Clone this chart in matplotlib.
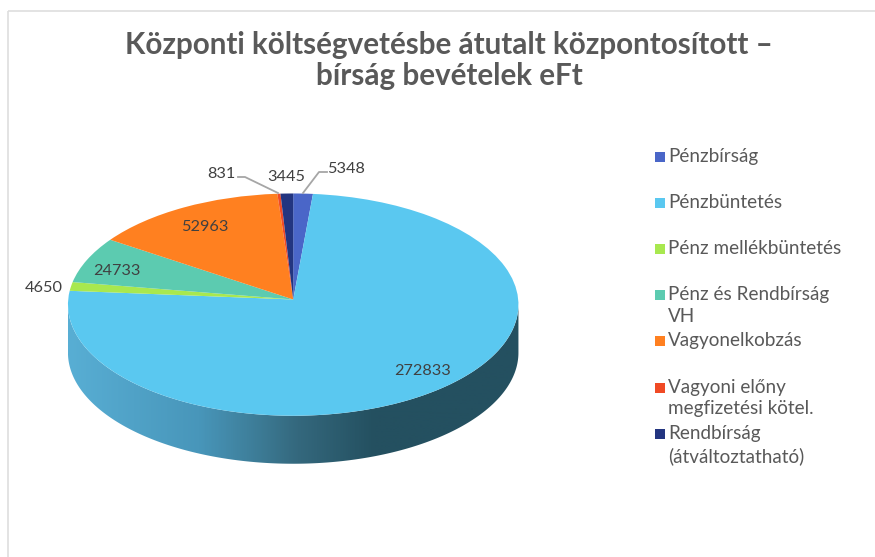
import matplotlib
matplotlib.use('Agg')
import matplotlib.pyplot as plt
import numpy as np
from matplotlib.colors import LinearSegmentedColormap
from matplotlib.patches import PathPatch, Rectangle
from matplotlib.path import Path
from matplotlib.transforms import Transform

plt.rcParams['font.family'] = ['Lato', 'DejaVu Sans']

#-----------------------------------------------------------------
# Data
#-----------------------------------------------------------------
categories = ['Pénzbírság', 'Pénzbüntetés', 'Pénz mellékbüntetés',
              'Pénz és Rendbírság\nVH', 'Vagyonelkobzás',
              'Vagyoni előny\nmegfizetési kötel.',
              'Rendbírság\n(átváltoztatható)']
values = [5348, 272833, 4650, 24733, 52963, 831, 3445]
colors = ['#4A66C8', '#5AC8F0', '#A8E84F', '#5CCBB0', '#FF8020', '#F04A25', '#233580']
title = 'Központi költségvetésbe átutalt központosított –\nbírság bevételek eFt'

# label positions in pixels of the 875x557 picture
label_pos = [(346, 169), (423, 371), (44, 288), (117, 271), (205, 227), (221, 174), (286, 177)]

#-----------------------------------------------------------------
# Pie geometry: perspective tilt of the unit circle, pixel coordinates
#-----------------------------------------------------------------
CX, CY = 293.2, 299.5
A, B, P = 225.0, 110.9, 0.046
DEPTH = 48

class Tilt(Transform):
    input_dims = 2
    output_dims = 2
    is_separable = False
    has_inverse = False

    def transform_non_affine(self, xy):
        xy = np.asarray(xy, dtype=float)
        w = 1 + P * xy[:, 1]
        return np.column_stack((CX + A * xy[:, 0] / w, CY - B * xy[:, 1] / w))

tilt = Tilt()

fig = plt.figure(figsize=(8.75, 5.57), dpi=100)
ax = fig.add_axes([0, 0, 1, 1])

wedges, _ = ax.pie(values, colors=colors, startangle=90, counterclock=False,
                   wedgeprops={'linewidth': 0})
ax.set_aspect('auto')
for w in wedges:
    w.set_transform(tilt + ax.transData)
    w.set_zorder(3)

# side wall, horizontal gradient clipped to the band under the front rim
# rim runs from the widest point on the right to the widest point on the left
t = np.linspace(np.pi / 4, 7 * np.pi / 4, 600)
rim = tilt.transform_non_affine(np.column_stack((np.sin(t), np.cos(t))))
rim = rim[np.argmax(rim[:, 0]):np.argmin(rim[:, 0]) + 1]
band = np.vstack((rim, (rim + [0, DEPTH])[::-1]))
wall_path = Path(np.vstack((band, band[0])), closed=True)
wall_cmap = LinearSegmentedColormap.from_list('wall', [
    (0.00, '#58AED4'), (0.29, '#4896BA'), (0.43, '#3C7A94'),
    (0.51, '#34687D'), (0.68, '#245060'), (1.00, '#245060')])
img = ax.imshow(np.linspace(0, 1, 450)[None, :], cmap=wall_cmap, aspect='auto',
                extent=(68, 519, 520, 300), zorder=2)
clip = PathPatch(wall_path, transform=ax.transData, facecolor='none', edgecolor='none')
ax.add_patch(clip)
img.set_clip_path(clip)

# data labels
for v, (x, y) in zip(values, label_pos):
    ax.text(x, y, str(v), ha='center', va='center', fontsize=11.7, color='#404040', zorder=5)

# leader lines
ax.plot([238, 245, 278], [177, 177, 193], color='#A6A6A6', lw=1.3, zorder=4)
ax.plot([303, 319, 327], [193, 172, 172], color='#A6A6A6', lw=1.3, zorder=4)

# legend, rows are evenly spaced whatever the number of text lines
for i, (name, c) in enumerate(zip(categories, colors)):
    y = 157 + i * 46.1
    ax.add_patch(Rectangle((655, y - 5), 10, 10, facecolor=c, edgecolor='none'))
    ax.text(668, y - 9, name, ha='left', va='top', fontsize=13.6, color='#595959',
            linespacing=1.35)

ax.text(449, 60.5, title, ha='center', va='center', fontsize=21.3, fontweight='bold',
        color='#595959', linespacing=1.17)

# chart frame edge
ax.add_patch(Rectangle((7.5, 10.5), 900, 600, facecolor='none', edgecolor='#DEDEDE', lw=1.2))

ax.set_xlim(0, 875)
ax.set_ylim(557, 0)
ax.set_xticks([])
ax.set_yticks([])
ax.set_frame_on(False)

fig.savefig('out.png', dpi=100)
